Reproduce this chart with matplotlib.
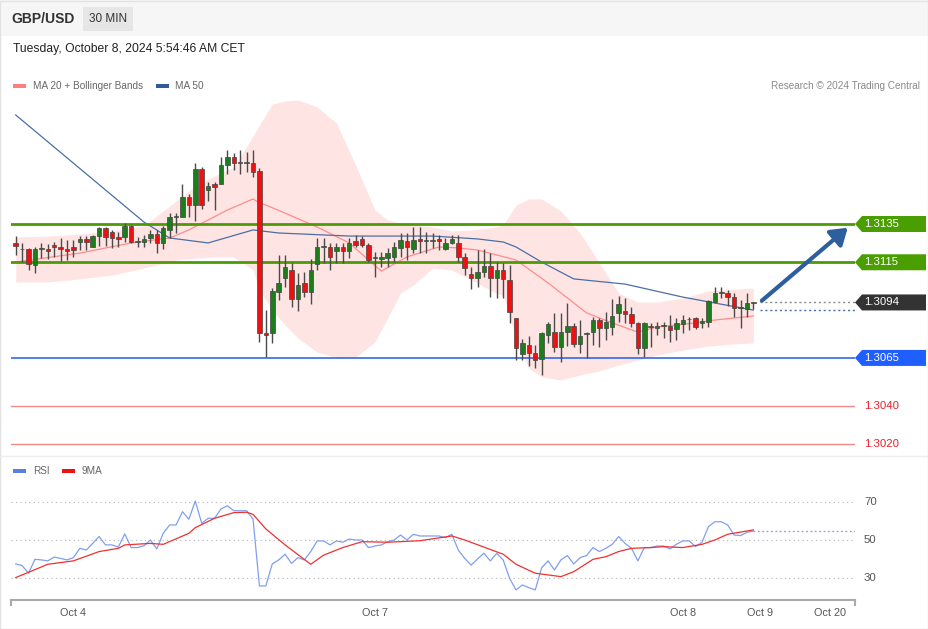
"""
GBP/USD 30 MIN chart with Bollinger bands, MA 50, key levels and RSI panel.
"""
import matplotlib
matplotlib.use('Agg')
import matplotlib.pyplot as plt
from matplotlib.patches import Polygon, Rectangle, FancyArrowPatch

plt.rcParams['font.family'] = ['Liberation Sans', 'DejaVu Sans']

# === DATA ===
open_ = [1.31251, 1.31219, 1.31219, 1.31136, 1.31219, 1.31219, 1.31240, 1.31230, 1.31219, 1.31230,
         1.31256, 1.31272, 1.31230, 1.31287, 1.31329, 1.31308, 1.31282, 1.31282, 1.31340, 1.31256,
         1.31256, 1.31277, 1.31298, 1.31251, 1.31319, 1.31387, 1.31387, 1.31491, 1.31449, 1.31637,
         1.31528, 1.31559, 1.31559, 1.31658, 1.31700, 1.31669, 1.31669, 1.31669, 1.31627, 1.30780,
         1.30780, 1.30995, 1.31068, 1.31110, 1.30958, 1.31042, 1.30995, 1.31141, 1.31230, 1.31230,
         1.31209, 1.31230, 1.31209, 1.31261, 1.31272, 1.31240, 1.31172, 1.31167, 1.31172, 1.31178,
         1.31225, 1.31261, 1.31219, 1.31272, 1.31261, 1.31261, 1.31272, 1.31219, 1.31251, 1.31251,
         1.31178, 1.31089, 1.31068, 1.31099, 1.31130, 1.31068, 1.31110, 1.31057, 1.30859, 1.30670,
         1.30718, 1.30676, 1.30644, 1.30770, 1.30785, 1.30707, 1.30785, 1.30817, 1.30723, 1.30775,
         1.30785, 1.30848, 1.30806, 1.30812, 1.30885, 1.30895, 1.30880, 1.30833, 1.30702, 1.30812,
         1.30806, 1.30817, 1.30817, 1.30801, 1.30827, 1.30853, 1.30859, 1.30833, 1.30838, 1.30942,
         1.30989, 1.30989, 1.30968, 1.30911, 1.30906, 1.30937]
high = [1.31287, 1.31251, 1.31225, 1.31230, 1.31251, 1.31245, 1.31256, 1.31277, 1.31266, 1.31266,
        1.31287, 1.31287, 1.31293, 1.31334, 1.31334, 1.31319, 1.31308, 1.31355, 1.31345, 1.31282,
        1.31293, 1.31319, 1.31319, 1.31340, 1.31407, 1.31407, 1.31559, 1.31507, 1.31669, 1.31648,
        1.31570, 1.31570, 1.31700, 1.31737, 1.31721, 1.31737, 1.31726, 1.31737, 1.31643, 1.30900,
        1.31015, 1.31188, 1.31188, 1.31146, 1.31094, 1.31099, 1.31167, 1.31277, 1.31277, 1.31251,
        1.31251, 1.31251, 1.31277, 1.31293, 1.31287, 1.31251, 1.31204, 1.31204, 1.31225, 1.31256,
        1.31303, 1.31303, 1.31334, 1.31334, 1.31308, 1.31303, 1.31293, 1.31277, 1.31293, 1.31293,
        1.31198, 1.31125, 1.31214, 1.31219, 1.31198, 1.31151, 1.31146, 1.31136, 1.30859, 1.30749,
        1.30765, 1.30718, 1.30785, 1.30838, 1.30885, 1.30885, 1.30937, 1.30833, 1.30848, 1.30785,
        1.30864, 1.30859, 1.30890, 1.30958, 1.30974, 1.30963, 1.30916, 1.30838, 1.30838, 1.30833,
        1.30838, 1.30838, 1.30875, 1.30859, 1.30875, 1.30864, 1.30864, 1.30859, 1.30953, 1.31021,
        1.31021, 1.31005, 1.30989, 1.30953, 1.30989, 1.30942]
low = [1.31188, 1.31151, 1.31110, 1.31094, 1.31172, 1.31167, 1.31178, 1.31157, 1.31162, 1.31178,
       1.31214, 1.31214, 1.31230, 1.31235, 1.31235, 1.31225, 1.31230, 1.31256, 1.31251, 1.31230,
       1.31230, 1.31251, 1.31198, 1.31219, 1.31277, 1.31303, 1.31387, 1.31387, 1.31366, 1.31428,
       1.31470, 1.31423, 1.31559, 1.31611, 1.31632, 1.31611, 1.31622, 1.31596, 1.30733, 1.30655,
       1.30728, 1.30953, 1.31021, 1.30916, 1.30895, 1.30968, 1.30932, 1.31110, 1.31146, 1.31110,
       1.31146, 1.31146, 1.31172, 1.31230, 1.31230, 1.31151, 1.31073, 1.31125, 1.31125, 1.31151,
       1.31178, 1.31162, 1.31198, 1.31198, 1.31198, 1.31225, 1.31214, 1.31214, 1.31245, 1.31151,
       1.31083, 1.31010, 1.31021, 1.31073, 1.30968, 1.30963, 1.30963, 1.30833, 1.30639, 1.30639,
       1.30608, 1.30597, 1.30561, 1.30728, 1.30681, 1.30629, 1.30712, 1.30707, 1.30676, 1.30650,
       1.30718, 1.30707, 1.30744, 1.30770, 1.30838, 1.30833, 1.30812, 1.30670, 1.30655, 1.30707,
       1.30770, 1.30754, 1.30733, 1.30744, 1.30780, 1.30796, 1.30801, 1.30806, 1.30812, 1.30937,
       1.30963, 1.30921, 1.30864, 1.30806, 1.30864, 1.30906]
close = [1.31235, 1.31217, 1.31141, 1.31219, 1.31219, 1.31209, 1.31230, 1.31219, 1.31209, 1.31214,
         1.31272, 1.31256, 1.31287, 1.31329, 1.31282, 1.31277, 1.31272, 1.31340, 1.31256, 1.31256,
         1.31272, 1.31298, 1.31251, 1.31329, 1.31387, 1.31387, 1.31491, 1.31449, 1.31637, 1.31449,
         1.31549, 1.31543, 1.31658, 1.31700, 1.31669, 1.31669, 1.31669, 1.31622, 1.30780, 1.30770,
         1.31000, 1.31042, 1.31125, 1.30958, 1.31031, 1.30995, 1.31110, 1.31230, 1.31230, 1.31178,
         1.31230, 1.31209, 1.31251, 1.31240, 1.31240, 1.31162, 1.31172, 1.31178, 1.31198, 1.31230,
         1.31266, 1.31230, 1.31266, 1.31261, 1.31261, 1.31261, 1.31261, 1.31251, 1.31272, 1.31178,
         1.31120, 1.31068, 1.31099, 1.31130, 1.31068, 1.31110, 1.31063, 1.30890, 1.30702, 1.30728,
         1.30676, 1.30639, 1.30780, 1.30827, 1.30707, 1.30785, 1.30817, 1.30723, 1.30765, 1.30775,
         1.30848, 1.30806, 1.30838, 1.30869, 1.30932, 1.30880, 1.30833, 1.30702, 1.30833, 1.30812,
         1.30817, 1.30817, 1.30796, 1.30833, 1.30848, 1.30853, 1.30812, 1.30843, 1.30948, 1.30989,
         1.30989, 1.30968, 1.30911, 1.30911, 1.30937, 1.30942]

# MA 20 and MA 50 read at a few candles
ma20_idx = [0, 10, 18, 24, 27, 33, 37, 38, 39, 42, 47, 52, 55, 57, 61, 66, 69, 72, 75, 78,
            83, 89, 93, 97, 100, 106, 109, 115]
ma20_val = [1.31151, 1.31198, 1.31251, 1.31277, 1.31319, 1.31423, 1.31481, 1.31460, 1.31449,
            1.31407, 1.31334, 1.31251, 1.31162, 1.31104, 1.31178, 1.31230, 1.31225, 1.31214,
            1.31188, 1.31162, 1.31042, 1.30885, 1.30833, 1.30785, 1.30812, 1.30833, 1.30848,
            1.30869]
ma50_idx = [0, 20, 24, 30, 37, 41, 52, 65, 72, 76, 78, 82, 87, 95, 104, 109, 115]
ma50_val = [1.31920, 1.31360, 1.31277, 1.31251, 1.31319, 1.31303, 1.31287, 1.31287, 1.31272,
            1.31256, 1.31230, 1.31151, 1.31063, 1.31036, 1.30968, 1.30937, 1.30900]

# Bollinger bands
bb_idx = [0, 5, 10, 15, 20, 25, 28, 31, 34, 37, 38, 40, 42, 44, 47, 50, 53, 56, 58, 60,
          62, 65, 68, 71, 74, 76, 77, 78, 80, 82, 85, 88, 91, 94, 97, 100, 104, 108, 112, 115]
bb_upper = [1.31282, 1.31287, 1.31298, 1.31313, 1.31340, 1.31470, 1.31549, 1.31601, 1.31648,
            1.31810, 1.31867, 1.31977, 1.31993, 1.31998, 1.31962, 1.31878, 1.31658, 1.31423,
            1.31371, 1.31355, 1.31345, 1.31334, 1.31313, 1.31319, 1.31329, 1.31345, 1.31397,
            1.31449, 1.31481, 1.31481, 1.31418, 1.31303, 1.31146, 1.30989, 1.30942, 1.30942,
            1.30963, 1.31000, 1.31010, 1.31015]
bb_lower = [1.31047, 1.31047, 1.31063, 1.31083, 1.31120, 1.31162, 1.31172, 1.31178, 1.31178,
            1.31110, 1.31005, 1.30900, 1.30822, 1.30754, 1.30681, 1.30650, 1.30655, 1.30733,
            1.30859, 1.30989, 1.31031, 1.31120, 1.31110, 1.31057, 1.31005, 1.30974, 1.30874,
            1.30744, 1.30597, 1.30550, 1.30535, 1.30561, 1.30582, 1.30613, 1.30639, 1.30665,
            1.30691, 1.30712, 1.30723, 1.30728]

# Key levels
levels = [1.3135, 1.3115, 1.3065, 1.3040, 1.3020]
level_kind = ['green', 'green', 'blue', 'red', 'red']
last_price = 1.3094
ma50_last = 1.3090
target_price = 1.3135

# RSI (one value per candle) and its 9MA read at a few candles
rsi = [37.4, 36.5, 32.5, 39.8, 39.5, 39.0, 41.0, 40.3, 39.5, 40.7,
       45.6, 44.7, 48.2, 51.8, 47.4, 47.4, 46.3, 53.2, 46.0, 46.0,
       47.0, 50.0, 45.3, 53.5, 57.9, 57.9, 64.9, 60.9, 70.5, 58.8,
       61.4, 61.4, 66.3, 68.0, 65.4, 65.4, 65.4, 61.0, 25.8, 25.8,
       37.4, 39.5, 42.5, 37.7, 40.7, 39.5, 43.9, 49.5, 49.5, 47.4,
       49.5, 48.8, 50.5, 50.0, 50.0, 46.0, 46.8, 47.4, 49.1, 50.0,
       52.6, 50.0, 53.0, 52.1, 52.1, 52.1, 52.1, 51.2, 53.0, 44.7,
       40.3, 36.8, 40.0, 43.0, 39.0, 43.0, 39.5, 29.8, 23.7, 26.3,
       24.9, 23.7, 35.4, 39.0, 34.2, 39.5, 41.8, 37.4, 40.7, 41.8,
       46.0, 43.9, 45.6, 47.7, 51.8, 48.2, 45.6, 39.0, 46.0, 46.0,
       46.8, 46.8, 45.3, 47.7, 49.5, 49.5, 46.5, 48.8, 57.0, 59.6,
       59.6, 57.9, 52.6, 52.3, 54.0, 54.7]
rsi_ma_idx = [0, 2, 5, 9, 13, 16, 17, 21, 23, 27, 28, 31, 34, 36, 37, 39, 42, 46, 48, 51,
              54, 58, 63, 68, 70, 76, 78, 81, 83, 85, 87, 90, 92, 94, 96, 99, 101, 104, 107,
              109, 111, 115]
rsi_ma_val = [30.2, 33.0, 37.2, 39.0, 43.9, 45.6, 47.4, 48.2, 47.7, 53.5, 56.5, 61.4, 64.4,
              64.6, 63.5, 55.8, 47.4, 37.2, 42.0, 46.0, 49.1, 48.8, 49.6, 52.1, 50.0, 42.5,
              37.2, 32.5, 31.6, 30.7, 33.3, 39.8, 41.2, 43.9, 45.6, 46.0, 46.5, 46.0, 47.7,
              50.0, 53.0, 55.3]
rsi_levels = [70, 50, 30]

tick_pos = [9, 56, 104, 116, 127]
tick_labels = ['Oct 4', 'Oct 7', 'Oct 8', 'Oct 9', 'Oct 20']

# === COLORS ===
UP = '#1b7d1b'
DOWN = '#ee1111'
WICK = '#4a4a4a'
BAND = '#ffe4e4'
MA20_C = '#ff8c8c'
MA50_C = '#4a6fa5'
GREEN_LVL = '#4c9a06'
BLUE_LVL = '#1f5ef0'
RED_LVL = '#f28a8a'
RED_TXT = '#e8202a'
RSI_C = '#7f9ff0'
RSI_MA_C = '#f03030'

W, H = 929, 629
fig = plt.figure(figsize=(W / 100, H / 100), dpi=100)


def px_rect(x0, y0, x1, y1):
    return [x0 / W, 1 - y1 / H, (x1 - x0) / W, (y1 - y0) / H]


# overlay in pixel coordinates for header / decorations
bg = fig.add_axes([0, 0, 1, 1], zorder=0)
bg.set_xlim(0, W)
bg.set_ylim(H, 0)
bg.axis('off')

ax = fig.add_axes(px_rect(11, 95, 855, 455), zorder=2)
ax_rsi = fig.add_axes(px_rect(11, 460, 855, 600), zorder=2)
for a in (ax, ax_rsi):
    a.set_facecolor('none')

n = len(close)
xs = list(range(n))
x_left, x_right = -0.733, 130.85

# === HEADER ===
bg.add_patch(Rectangle((0, 0), W, 36, facecolor='#f6f6f6', edgecolor='none'))
bg.add_patch(Rectangle((0.5, 0.5), W - 1, H - 1, facecolor='none', edgecolor='#e2e2e2', lw=1))
bg.text(11, 19, "GBP/USD", ha='left', va='center', fontsize=10, fontweight='bold', color='#333333')
bg.add_patch(Rectangle((83, 7), 50, 24, facecolor='#e6e6e6', edgecolor='none'))
bg.text(108, 19, "30 MIN", ha='center', va='center', fontsize=8.5, color='#333333')
bg.text(13, 49, "Tuesday, October 8, 2024 5:54:46 AM CET", ha='left', va='center',
        fontsize=8.7, color='#222222')

# legend row
bg.add_patch(Rectangle((13, 84), 13, 4, facecolor='#ff7f7f', edgecolor='none'))
bg.text(33, 86, "MA 20 + Bollinger Bands", ha='left', va='center', fontsize=7.2, color='#666666')
bg.add_patch(Rectangle((156, 84), 13, 4, facecolor='#2e5c9a', edgecolor='none'))
bg.text(175, 86, "MA 50", ha='left', va='center', fontsize=7.2, color='#666666')
bg.text(920, 86, "Research © 2024 Trading Central", ha='right', va='center', fontsize=7.2, color='#8a8a8a')

# panel separator
bg.plot([0, W], [456, 456], color='#ececec', lw=1)

# RSI legend
bg.add_patch(Rectangle((13, 469), 13, 4, facecolor='#5b7fe0', edgecolor='none'))
bg.text(33, 471, "RSI", ha='left', va='center', fontsize=7.2, color='#666666')
bg.add_patch(Rectangle((62, 469), 13, 4, facecolor='#ee1111', edgecolor='none'))
bg.text(82, 471, "9MA", ha='left', va='center', fontsize=7.2, color='#666666')

# === MAIN PANEL ===
ax.set_xlim(x_left, x_right)
ax.set_ylim(1.301426, 1.320243)
ax.axis('off')

ax.fill_between(bb_idx, bb_lower, bb_upper, color=BAND, lw=0, zorder=1)
ax.plot(ma20_idx, ma20_val, color=MA20_C, lw=0.9, zorder=2)
ax.plot(ma50_idx, ma50_val, color=MA50_C, lw=0.9, zorder=2)

for price, kind in zip(levels, level_kind):
    if kind == 'green':
        ax.axhline(price, color=GREEN_LVL, lw=2, zorder=3)
    elif kind == 'blue':
        ax.axhline(price, color=BLUE_LVL, lw=1.1, zorder=3)
    else:
        ax.axhline(price, color=RED_LVL, lw=1, zorder=3)

# candles
for i in xs:
    o, h, l, c = open_[i], high[i], low[i], close[i]
    ax.vlines(i, l, h, color=WICK, lw=1, zorder=4)
    col = UP if c >= o else DOWN
    body = max(abs(c - o), 0.00003)
    ax.bar(i, body, bottom=min(o, c), width=0.7, color=col, edgecolor='#444444',
           lw=0.5, zorder=5)

# dotted lines from the last candle
ax.plot([n, x_right], [last_price, last_price], color='#8a8a8a', lw=1, ls=(0, (1.5, 2)), zorder=3)
ax.plot([n, x_right], [ma50_last, ma50_last], color=MA50_C, lw=1, ls=(0, (1.5, 2)), zorder=3)

# target arrow
arrow = FancyArrowPatch((n, last_price), (x_right - 0.8, target_price - 0.0001),
                        arrowstyle='-|>,head_length=6,head_width=4', mutation_scale=1.6,
                        color='#2d5f9e', lw=3, zorder=6)
ax.add_patch(arrow)

fig.canvas.draw()


def price_to_px(price):
    return H - ax.transData.transform((0, price))[1]


label_items = [(p, k) for p, k in zip(levels, level_kind)] + [(last_price, 'last')]
box_colors = {'green': '#4a9e00', 'blue': '#1f5eff', 'last': '#333333'}
for price, kind in label_items:
    y = price_to_px(price)
    txt = f"{price:.4f}"
    if kind == 'red':
        bg.text(864, y, txt, ha='left', va='center', fontsize=8.2, color=RED_TXT, zorder=5)
        continue
    poly = Polygon([(855, y), (862, y - 8), (926, y - 8), (926, y + 8), (862, y + 8)],
                   closed=True, facecolor=box_colors[kind], edgecolor='none', zorder=4)
    bg.add_patch(poly)
    bg.text(864, y, txt, ha='left', va='center', fontsize=8.2, color='white', zorder=5)

# === RSI PANEL ===
ax_rsi.set_xlim(x_left, x_right)
ax_rsi.set_ylim(18.4, 92.1)
for lvl in rsi_levels:
    ax_rsi.axhline(lvl, color='#b5b5b5', lw=0.8, ls=(0, (1, 3)), zorder=1)
    y = H - ax_rsi.transData.transform((0, lvl))[1]
    bg.text(864, y, str(lvl), ha='left', va='center', fontsize=8.2, color='#555555')

ax_rsi.plot(xs, rsi, color=RSI_C, lw=0.9, zorder=3)
ax_rsi.plot(rsi_ma_idx, rsi_ma_val, color=RSI_MA_C, lw=0.9, zorder=4)
ax_rsi.plot([n - 1, x_right], [rsi[-1], rsi[-1]], color=RSI_C, lw=0.9, ls=(0, (1.5, 2)), zorder=2)

for side in ['top', 'right', 'left']:
    ax_rsi.spines[side].set_visible(False)
ax_rsi.spines['bottom'].set_color('#aaaaaa')
ax_rsi.spines['bottom'].set_linewidth(1.5)
ax_rsi.set_yticks([])
ax_rsi.set_xticks(tick_pos)
ax_rsi.set_xticklabels(tick_labels, fontsize=7.8, color='#555555')
ax_rsi.tick_params(axis='x', length=0, pad=6)

# end ticks of the time axis
bg.plot([11, 11], [600, 605], color='#aaaaaa', lw=1.5)
bg.plot([855, 855], [600, 605], color='#aaaaaa', lw=1.5)

fig.savefig('out.png', dpi=100, facecolor='white')
plt.close(fig)
